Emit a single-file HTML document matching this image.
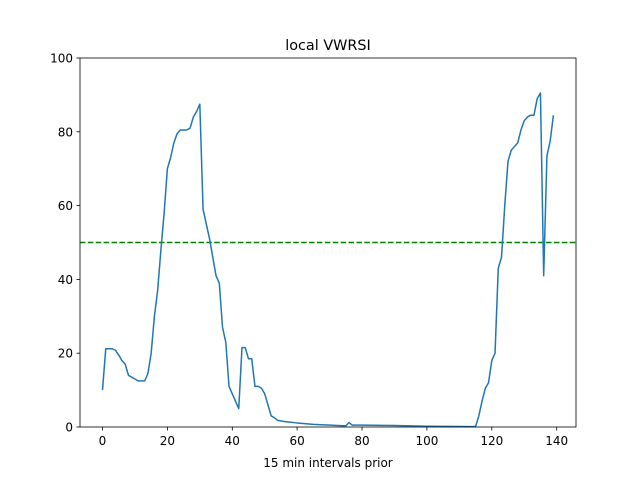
<!DOCTYPE html>
<html><head><meta charset="utf-8"><style>
html,body{margin:0;padding:0;background:#fff;}
svg text{font-family:"DejaVu Sans","Liberation Sans",sans-serif;fill:#000;}
</style></head><body>
<svg width="640" height="480" viewBox="0 0 640 480" xmlns="http://www.w3.org/2000/svg">
<rect width="640" height="480" fill="#fff"/>
<text x="328" y="50" font-size="14.4" text-anchor="middle">local VWRSI</text>
<g transform="translate(102.5,427) scale(3.244,-3.69)">
<line x1="-6.95" y1="50" x2="145.95" y2="50" stroke="#008000" stroke-width="1.5" stroke-dasharray="5.5,2.4" vector-effect="non-scaling-stroke"/>
<polyline fill="none" stroke="#1f77b4" stroke-width="1.5" stroke-linejoin="round" vector-effect="non-scaling-stroke" points="
0,10 1,21.2 2,21.2 3,21.2 4,20.8 5,19.5 6,18 7,17 8,14 9,13.5 10,13 11,12.5 12,12.5 13,12.5 14,14.5 15,20 16,30 17,37 18,48 19,58 20,70 21,73 22,77 23,79.5 24,80.5 25,80.5 26,80.5 27,81 28,84 29,85.5 30,87.5 31,59 32,55 33,51 34,46 35,41 36,39 37,27 38,23 39,11 40,9 41,7 42,5 43,21.5 44,21.5 45,18.5 46,18.5 47,11 48,11 49,10.5 50,9 51,6 52,3 53,2.5 54,1.8 56,1.5 60,1.1 65,0.7 75,0.3 76,1.2 77,0.5 80,0.5 90,0.4 100,0.2 115,0.1 116,3 117,7 118,10.5 119,12 120,18 121,20 122,43 123,46 124,60 125,72 126,75 127,76 128,77 129,80.5 130,83 131,84 132,84.5 133,84.5 134,89 135,90.5 136,41 137,73.5 138,77.5 139,84.5"/>
</g>
<rect x="80" y="58" width="496" height="369" fill="none" stroke="#000" stroke-width="0.8"/>
<g stroke="#000" stroke-width="0.8">
<line x1="102.5" y1="427" x2="102.5" y2="430.5"/>
<line x1="167.4" y1="427" x2="167.4" y2="430.5"/>
<line x1="232.3" y1="427" x2="232.3" y2="430.5"/>
<line x1="297.1" y1="427" x2="297.1" y2="430.5"/>
<line x1="362" y1="427" x2="362" y2="430.5"/>
<line x1="426.9" y1="427" x2="426.9" y2="430.5"/>
<line x1="491.8" y1="427" x2="491.8" y2="430.5"/>
<line x1="556.7" y1="427" x2="556.7" y2="430.5"/>
<line x1="80" y1="427" x2="76.5" y2="427"/>
<line x1="80" y1="353.2" x2="76.5" y2="353.2"/>
<line x1="80" y1="279.4" x2="76.5" y2="279.4"/>
<line x1="80" y1="205.6" x2="76.5" y2="205.6"/>
<line x1="80" y1="131.8" x2="76.5" y2="131.8"/>
<line x1="80" y1="58" x2="76.5" y2="58"/>
</g>
<g font-size="12" text-anchor="middle">
<text x="102.5" y="445">0</text>
<text x="167.4" y="445">20</text>
<text x="232.3" y="445">40</text>
<text x="297.1" y="445">60</text>
<text x="362" y="445">80</text>
<text x="426.9" y="445">100</text>
<text x="491.8" y="445">120</text>
<text x="556.7" y="445">140</text>
<text x="328" y="467">15 min intervals prior</text>
</g>
<g font-size="12" text-anchor="end">
<text x="73" y="431.5">0</text>
<text x="73" y="357.7">20</text>
<text x="73" y="283.9">40</text>
<text x="73" y="210.1">60</text>
<text x="73" y="136.3">80</text>
<text x="73" y="62.5">100</text>
</g>
</svg>
</body></html>
